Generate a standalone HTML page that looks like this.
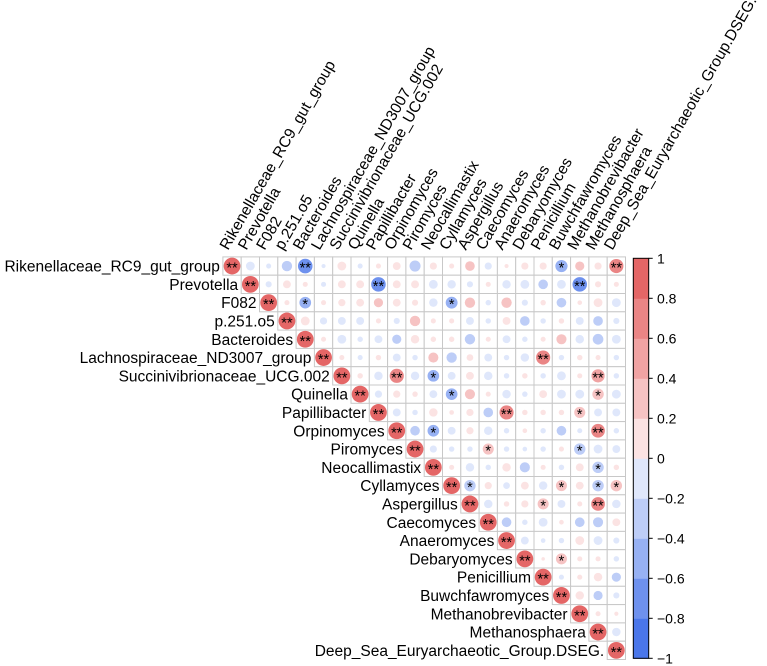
<!DOCTYPE html>
<html><head><meta charset="utf-8"><style>
html,body{margin:0;padding:0;background:#fff;}
svg{display:block;font-family:"Liberation Sans",Arial,sans-serif;}
</style></head><body>
<svg id="chart" width="767" height="666" viewBox="0 0 767 666"></svg>
<script>
const taxaLabels = ["Rikenellaceae_RC9_gut_group","Prevotella","F082","p.251.o5","Bacteroides","Lachnospiraceae_ND3007_group","Succinivibrionaceae_UCG.002","Quinella","Papillibacter","Orpinomyces","Piromyces","Neocallimastix","Cyllamyces","Aspergillus","Caecomyces","Anaeromyces","Debaryomyces","Penicillium","Buwchfawromyces","Methanobrevibacter","Methanosphaera","Deep_Sea_Euryarchaeotic_Group.DSEG."];
// upper-triangle rows, each starts at the diagonal
const corrRows = [
[1,-0.2,-0.05,-0.3,-0.7,-0.03,0.2,-0.05,0.05,0.15,-0.35,0.12,0.05,0.25,-0.12,0.03,0.12,0.12,-0.45,0.22,0.12,0.65],
[1,-0.08,0.15,0.05,-0.05,0.15,0.15,-0.7,0.15,0.15,-0.2,-0.18,-0.08,0.05,-0.18,-0.2,-0.25,-0.2,-0.7,0.08,0.05],
[1,0.05,-0.4,0.05,0.12,0.15,0.22,0.15,0.08,-0.18,-0.42,0.3,-0.06,0.3,-0.08,0.06,-0.25,0.04,0.2,-0.2],
[1,0.2,-0.12,-0.15,-0.15,0.05,-0.08,0.3,0.05,0.05,-0.15,-0.06,0.15,-0.25,-0.06,0.06,-0.15,-0.25,-0.08],
[1,0.05,-0.2,-0.06,-0.15,-0.22,0.18,0.06,0.06,-0.3,0.05,-0.15,-0.06,0.05,0.28,-0.18,-0.32,-0.2],
[1,0.05,-0.05,0.06,-0.15,-0.06,0.28,-0.3,0.1,-0.15,-0.06,-0.18,0.65,-0.06,0.06,0.05,-0.06],
[1,0.06,-0.18,0.65,-0.18,-0.4,-0.15,0.15,-0.18,-0.06,0.06,-0.06,-0.2,0.05,0.55,-0.06],
[1,-0.12,0.12,0.06,-0.15,-0.4,0.28,0.05,-0.18,-0.06,0.15,-0.2,-0.2,0.38,-0.2],
[1,-0.15,-0.06,0.18,0.04,0.12,-0.25,0.65,0.06,0.06,0.06,0.35,-0.15,-0.15],
[1,-0.25,-0.4,-0.15,0.12,-0.18,-0.06,0.04,-0.06,-0.25,-0.05,0.6,-0.06],
[1,-0.12,-0.06,-0.06,0.35,-0.06,-0.04,-0.06,0.05,-0.38,-0.2,-0.15],
[1,0.05,-0.18,-0.06,0.18,-0.28,0.05,-0.06,0.15,-0.38,0.06],
[1,-0.38,0.12,-0.1,0.15,-0.18,0.35,0.15,-0.38,0.38],
[1,-0.18,0.06,0.12,0.35,-0.15,0.05,0.6,-0.18],
[1,-0.25,-0.06,-0.2,0.04,-0.25,-0.28,0.15],
[1,-0.15,-0.04,-0.06,0.2,-0.2,-0.08],
[1,0.02,0.35,0.05,0.05,-0.06],
[1,-0.05,0.05,0.18,-0.22],
[1,0.18,-0.22,-0.08],
[1,0.05,0.03],
[1,-0.18],
[1]
];
// significance marks: [row, col, mark]
const sigMarks = [[0,4,"**"],[0,18,"*"],[0,21,"**"],[1,8,"**"],[1,19,"**"],[2,4,"*"],[2,12,"*"],
[5,17,"**"],[6,9,"**"],[6,11,"*"],[6,20,"**"],[7,12,"*"],[7,20,"*"],[8,15,"**"],[8,19,"*"],
[9,11,"*"],[9,20,"**"],[10,14,"*"],[10,19,"*"],[11,20,"*"],[12,13,"*"],[12,18,"*"],[12,20,"*"],[12,21,"*"],
[13,17,"*"],[13,20,"**"],[16,18,"*"]];
const legendTicks = [1,0.8,0.6,0.4,0.2,0,-0.2,-0.4,-0.6,-0.8,-1];

const NS="http://www.w3.org/2000/svg";
const svg=document.getElementById('chart');
const N=taxaLabels.length, X0=222.9, Y0=256.9, CELL=18.3;
const palette=["#4a76ea","#6e91ee","#97b1f3","#bdcdf7","#dfe7fb","#fbe3e3","#f6c3c3","#f0a3a3","#ea8585","#e46666"];
function colX(j){return X0+CELL*j+CELL/2;}
function rowY(i){return Y0+CELL*i+CELL/2;}
function colorOf(v){let b=Math.floor((v+1)/0.2);if(b>9)b=9;if(b<0)b=0;return palette[b];}
function radiusOf(v){return 8.4*Math.pow(Math.abs(v),0.4);}
function mk(tag,attrs){const e=document.createElementNS(NS,tag);for(const k in attrs)e.setAttribute(k,attrs[k]);svg.appendChild(e);return e;}

corrRows.forEach((row,i)=>{
  row.forEach((v,k)=>{
    const j=i+k;
    const r=mk('rect',{x:X0+CELL*j,y:Y0+CELL*i,width:CELL,height:CELL,fill:'#fff',stroke:'#c8c8c8','stroke-width':1});
    
    
  });
});
corrRows.forEach((row,i)=>{
  row.forEach((v,k)=>{
    const j=i+k;
    const c=mk('circle',{cx:colX(j),cy:rowY(i),r:radiusOf(v),fill:colorOf(v)});
    
    
  });
});
const allMarks=sigMarks.slice();
for(let i=0;i<N;i++)allMarks.push([i,i,"**"]);
allMarks.forEach(m=>{
  const t=mk('text',{x:colX(m[1]),y:rowY(m[0])+6.5,'text-anchor':'middle','font-size':14.5,fill:'#000'});
  t.textContent=m[2];
  
  
});
taxaLabels.forEach((lab,i)=>{
  const t=mk('text',{x:X0+CELL*i-3,y:rowY(i)+5.5,'text-anchor':'end','font-size':15.5,fill:'#000'});
  t.textContent=lab;
  
  
});
taxaLabels.forEach((lab,j)=>{
  const x=colX(j)-4,y=Y0-6;
  const t=mk('text',{x:x,y:y,'font-size':15.5,fill:'#000',transform:'rotate(-60 '+x+' '+y+')'});
  t.textContent=lab;
  
  
});
const CB_X=633.3,CB_W=15.4,CB_TOP=258.3,CB_H=400;
function legY(v){return CB_TOP+(1-v)/2*CB_H;}
for(let b=0;b<10;b++){
  const vTop=-1+0.2*(b+1);
  const r=mk('rect',{x:CB_X,y:legY(vTop),width:CB_W,height:CB_H/10+0.5,fill:palette[b]});
  
  
}
const fr=mk('rect',{x:CB_X,y:CB_TOP,width:CB_W,height:CB_H,fill:'none',stroke:'#000','stroke-width':1});


legendTicks.forEach(v=>{
  const y=legY(v);
  const l=mk('line',{x1:CB_X+CB_W,x2:CB_X+CB_W+4,y1:y,y2:y,stroke:'#000','stroke-width':1});
  
  
  const t=mk('text',{x:657,y:y+5,'font-size':14,fill:'#000'});
  t.textContent=(v<0?'\u2212'+Math.abs(v):String(v));
  
  
});
</script>
</body></html>
